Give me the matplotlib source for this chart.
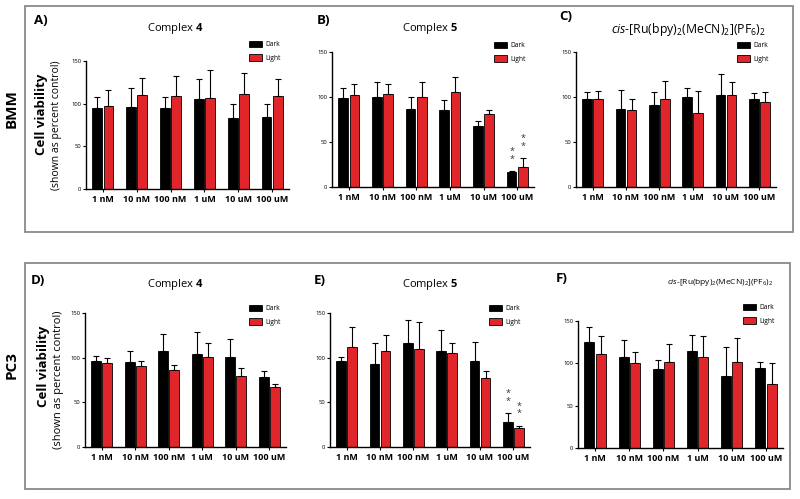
import matplotlib
matplotlib.use("Agg")
import matplotlib.pyplot as plt
from matplotlib.patches import Rectangle
import numpy as np

plt.rcParams['font.family'] = ['Open Sans', 'DejaVu Sans']
plt.rcParams['mathtext.fontset'] = 'custom'
plt.rcParams['mathtext.rm'] = 'Open Sans'
plt.rcParams['mathtext.it'] = 'Open Sans:italic'
plt.rcParams['mathtext.bf'] = 'Open Sans:bold'

# concentrations on the x axis
conc = ['1 nM', '10 nM', '100 nM', '1 uM', '10 uM', '100 uM']

# cell viability (% control), mean and upper error, for each panel
A_dark = [95, 96, 95, 106, 83, 84]
A_dark_sd = [13, 22, 13, 23, 17, 16]
A_light = [97, 110, 109, 107, 111, 109]
A_light_sd = [19, 20, 24, 33, 25, 20]

B_dark = [99, 100, 87, 86, 68, 17]
B_dark_sd = [11, 17, 13, 11, 5, 1]
B_light = [102, 103, 100, 106, 81, 22]
B_light_sd = [12, 11, 17, 16, 5, 10]

C_dark = [98, 87, 91, 100, 102, 98]
C_dark_sd = [8, 21, 15, 10, 24, 7]
C_light = [98, 86, 98, 82, 102, 94]
C_light_sd = [9, 12, 20, 25, 15, 12]

D_dark = [96, 95, 108, 104, 101, 78]
D_dark_sd = [6, 12, 19, 25, 20, 7]
D_light = [94, 91, 86, 101, 80, 67]
D_light_sd = [6, 5, 6, 15, 8, 4]

E_dark = [96, 93, 116, 107, 96, 28]
E_dark_sd = [5, 23, 26, 24, 21, 10]
E_light = [112, 108, 110, 105, 77, 21]
E_light_sd = [22, 17, 30, 11, 8, 3]

F_dark = [125, 107, 93, 115, 85, 95]
F_dark_sd = [18, 20, 11, 19, 34, 7]
F_light = [111, 100, 102, 107, 101, 76]
F_light_sd = [21, 13, 21, 25, 29, 24]

# groups marked with ** (both dark and light)
B_stars = [5]
E_stars = [5]

ru_title = r'$\mathit{cis}$-[Ru(bpy)$_2$(MeCN)$_2$](PF$_6$)$_2$'
cpx4 = r'Complex $\mathbf{4}$'
cpx5 = r'Complex $\mathbf{5}$'

W, H = 800, 499
fig = plt.figure(figsize=(W / 100, H / 100), dpi=100)


def fx(px):
    return px / W


def fy(py):
    return 1 - py / H


RED = '#e0262b'


def panel(box, dark, dsd, light, lsd, letter, title, tpos, tsize, lpos, lab_pos, stars=()):
    l, t, r, b = box
    ax = fig.add_axes([fx(l), fy(b), (r - l) / W, (b - t) / H])
    x = np.arange(len(conc))
    w = 0.29
    off = 0.165
    b1 = ax.bar(x - off, dark, w, color='black', edgecolor='black', lw=0.6, label='Dark', zorder=2)
    b2 = ax.bar(x + off, light, w, color=RED, edgecolor='black', lw=0.6, label='Light', zorder=2)
    ax.errorbar(x - off, dark, yerr=[np.zeros(len(x)), dsd], fmt='none', ecolor='black',
                elinewidth=0.8, capsize=2, capthick=0.8, zorder=1)
    ax.errorbar(x + off, light, yerr=[np.zeros(len(x)), lsd], fmt='none', ecolor='black',
                elinewidth=0.8, capsize=2, capthick=0.8, zorder=1)
    for i in stars:
        ax.text(x[i] - off, dark[i] + dsd[i] + 8, '*\n*', ha='center', va='bottom',
                fontsize=6.5, linespacing=0.8, color='#333333')
        ax.text(x[i] + off, light[i] + lsd[i] + 8, '*\n*', ha='center', va='bottom',
                fontsize=6.5, linespacing=0.8, color='#333333')
    ax.set_xlim(-0.5, len(conc) - 0.5)
    ax.set_ylim(0, 150)
    ax.set_yticks([0, 50, 100, 150])
    ax.set_xticks(x)
    ax.set_xticklabels(conc, fontsize=6.5, fontweight='bold')
    ax.tick_params(axis='y', labelsize=4.2, length=2.5, width=0.8, pad=1)
    ax.tick_params(axis='x', length=2.5, width=0.8, pad=2)
    for s in ['top', 'right']:
        ax.spines[s].set_visible(False)
    for s in ['left', 'bottom']:
        ax.spines[s].set_linewidth(1.0)
    ax.legend(handles=[b1, b2], loc='upper left', bbox_to_anchor=(fx(lpos[0]), fy(lpos[1])),
              bbox_transform=fig.transFigure, frameon=False, fontsize=4.8, borderpad=0,
              borderaxespad=0, handlelength=1.9, handleheight=1.1, handletextpad=0.5,
              labelspacing=0.85)
    fig.text(fx(lab_pos[0]), fy(lab_pos[1]), letter, fontsize=9.5, fontweight='bold',
             ha='left', va='center')
    fig.text(fx(tpos[0]), fy(tpos[1]), title, fontsize=tsize, ha='center', va='center')
    return ax


# outer frames
fig.add_artist(Rectangle((fx(25), fy(232)), (793 - 25) / W, (232 - 6) / H, transform=fig.transFigure,
                         fill=False, edgecolor='#8a8a8a', lw=1.3))
fig.add_artist(Rectangle((fx(25), fy(489)), (790 - 25) / W, (489 - 263) / H, transform=fig.transFigure,
                         fill=False, edgecolor='#8a8a8a', lw=1.3))

panel((86, 61, 289, 189), A_dark, A_dark_sd, A_light, A_light_sd, 'A)', cpx4, (175, 28), 8,
      (249, 41), (34, 20))
panel((332, 52, 534, 187), B_dark, B_dark_sd, B_light, B_light_sd, 'B)', cpx5, (430, 28), 8,
      (494, 42), (317, 20), stars=B_stars)
panel((576, 52, 776, 187), C_dark, C_dark_sd, C_light, C_light_sd, 'C)', ru_title, (688, 30), 8.8,
      (737, 42), (559, 17))
panel((85, 313, 286, 447), D_dark, D_dark_sd, D_light, D_light_sd, 'D)', cpx4, (175, 284), 8,
      (249, 305), (31, 280))
panel((330, 313, 530, 447), E_dark, E_dark_sd, E_light, E_light_sd, 'E)', cpx5, (430, 284), 8,
      (489, 305), (314, 280), stars=E_stars)
panel((578, 321, 783, 448), F_dark, F_dark_sd, F_light, F_light_sd, 'F)', ru_title, (720, 282), 6,
      (743, 304), (556, 278))

# row and axis labels
fig.text(fx(12), fy(109), 'BMM', fontsize=11, fontweight='bold', rotation=90, ha='center', va='center')
fig.text(fx(12), fy(365), 'PC3', fontsize=11, fontweight='bold', rotation=90, ha='center', va='center')
fig.text(fx(42), fy(114), 'Cell viability', fontsize=9.5, fontweight='bold', rotation=90,
         ha='center', va='center')
fig.text(fx(57), fy(125), '(shown as percent control)', fontsize=7.5, rotation=90,
         ha='center', va='center')
fig.text(fx(43), fy(366), 'Cell viability', fontsize=9.5, fontweight='bold', rotation=90,
         ha='center', va='center')
fig.text(fx(59), fy(380), '(shown as percent control)', fontsize=8, rotation=90,
         ha='center', va='center')

fig.savefig('out.png', dpi=100)
